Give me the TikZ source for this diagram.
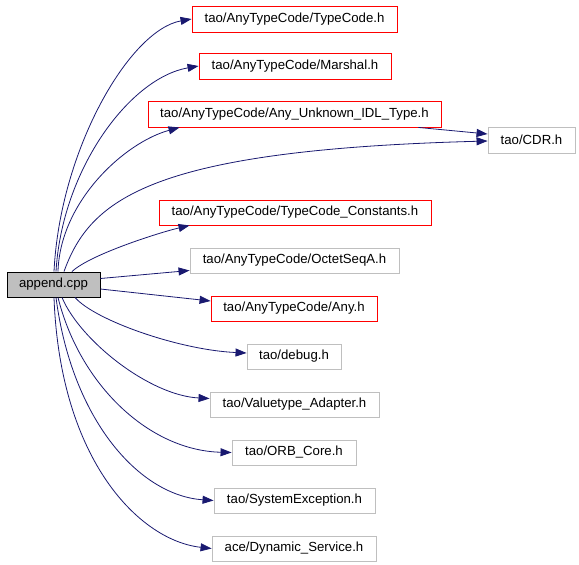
\documentclass[tikz,border=0pt]{standalone}
\usepackage{fontspec}
\setmainfont{Liberation Sans}
\usepackage{xcolor}
\usetikzlibrary{arrows.meta}
\definecolor{edgeblue}{HTML}{191970}
\definecolor{boxgray}{HTML}{BFBFBF}
\definecolor{boxred}{HTML}{FF0000}

\begin{document}
\begin{tikzpicture}[x=1pt,y=-1pt,
    file/.style={draw=boxgray,line width=0.9pt,minimum height=25pt,inner sep=0pt,font=\fontsize{13.2}{15}\selectfont},
    redfile/.style={file,draw=boxred},
    main/.style={file,draw=black,fill=boxgray},
    edge/.style={draw=edgeblue,line width=0.8pt,-{Triangle[length=11pt,width=8pt]}}]
    \useasboundingbox (0,0) rectangle (579,565);

    \node[main,minimum width=93pt] (app) at (53.5,284.5) {append.cpp};

    \node[redfile,minimum width=205pt,minimum height=26pt] (tc) at (294.5,19) {tao/AnyTypeCode/TypeCode.h};
    \node[redfile,minimum width=192pt,minimum height=26pt] (msh) at (295,66) {tao/AnyTypeCode/Marshal.h};
    \node[redfile,minimum width=293pt,minimum height=26pt] (unk) at (294.5,114) {tao/AnyTypeCode/Any\_Unknown\_IDL\_Type.h};
    \node[file,minimum width=87pt,minimum height=26pt] (cdr) at (531.5,140) {tao/CDR.h};
    \node[redfile,minimum width=272pt] (tcc) at (295,212.5) {tao/AnyTypeCode/TypeCode\_Constants.h};
    \node[file,minimum width=209pt] (oct) at (294.5,260.5) {tao/AnyTypeCode/OctetSeqA.h};
    \node[redfile,minimum width=166pt] (any) at (294,308.5) {tao/AnyTypeCode/Any.h};
    \node[file,minimum width=94pt] (dbg) at (294,356.5) {tao/debug.h};
    \node[file,minimum width=169pt] (vta) at (294.5,404.5) {tao/Valuetype\_Adapter.h};
    \node[file,minimum width=124pt] (orb) at (294,452.5) {tao/ORB\_Core.h};
    \node[file,minimum width=161pt] (sysex) at (294.5,500.5) {tao/SystemException.h};
    \node[file,minimum width=164pt] (dyn) at (294,548.5) {ace/Dynamic\_Service.h};

    \draw[edge] ([xshift=0.5pt]app.north) .. controls +(6,-122) and +(-62,11) .. (tc.west);
    \draw[edge] ([xshift=2.5pt]app.north) .. controls +(6,-102) and +(-69,12) .. (msh.west);
    \draw[edge] ([xshift=4.5pt]app.north) .. controls +(2,-70) and +(-55,15) .. ([xshift=32pt]unk.south west);
    \draw[edge] ([xshift=10.5pt]app.north) .. controls +(26,-72) and +(-338,9) .. ([yshift=-1pt]cdr.west);
    \draw[edge] ([xshift=-23pt]unk.south east) -- ([yshift=6pt]cdr.west);
    \draw[edge] ([xshift=18.5pt]app.north) .. controls +(18,-17) and +(-30,7) .. ([xshift=31pt]tcc.south west);
    \draw[edge] ([yshift=6pt]app.east) -- ([yshift=-10pt]oct.west);
    \draw[edge] ([yshift=-4.5pt]app.east) -- ([yshift=7.5pt]any.west);
    \draw[edge] ([xshift=21.5pt]app.south) .. controls +(20,23) and +(-67,-3) .. ([yshift=3.5pt]dbg.west);
    \draw[edge] ([xshift=8.5pt]app.south) .. controls +(18,43) and +(-60,-3) .. ([yshift=6pt]vta.west);
    \draw[edge] ([xshift=4.5pt]app.south) .. controls +(22,88) and +(-82,-2) .. (orb.west);
    \draw[edge] ([xshift=2.5pt]app.south) .. controls +(16,123) and +(-74,-5) .. (sysex.west);
    \draw[edge] ([xshift=0.5pt]app.south) .. controls +(6,163) and +(-72,-8) .. (dyn.west);
\end{tikzpicture}
\end{document}
